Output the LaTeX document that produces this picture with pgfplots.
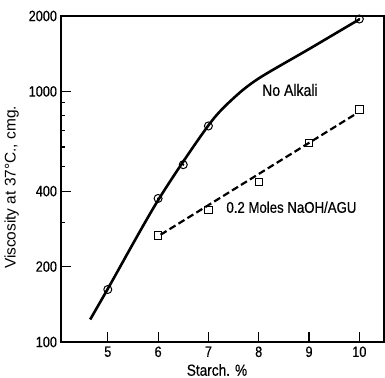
\documentclass[border=0pt]{standalone}
\usepackage{fontspec}
\setmainfont{Liberation Sans}
\newfontfamily\cond{Liberation Sans}[FakeStretch=0.85, FakeBold=0.4]
\usepackage{pgfplots}
\pgfplotsset{compat=1.18}
\begin{document}
\begin{tikzpicture}
\begin{axis}[
  name=ax,
  scale only axis,
  width=323bp, height=326bp,
  xmin=4.07, xmax=10.49,
  ymode=log, ymin=100, ymax=2000,
  xtick={5,6,7,8,9,10},
  xticklabels={5,6,7,8,9,10},
  ytick={100,200,400,1000,2000},
  yticklabels={100,200,400,1000,2000},
  minor ytick={300,500,600,700,800,900},
  xtick pos=left, ytick pos=left,
  tick align=inside,
  major tick length=10bp,
  minor tick length=4bp,
  every tick/.style={black, line width=1.1pt},
  axis line style={line width=1.3pt},
  tick label style={font=\cond\fontsize{15}{17}\selectfont},
  xticklabel style={yshift=-1bp},
  yticklabel style={xshift=-0.5bp},
  xlabel={Starch. \%},
  ylabel={Viscosity at 37°C., cmg.},
  xlabel style={at={(axis description cs:0.483,-0.0859)}, anchor=center, font=\cond\fontsize{16.1}{18}\selectfont},
  ylabel style={at={(axis description cs:-0.1526,0.474)}, anchor=center, font=\fontsize{15.5}{18}\selectfont},
  clip=false,
]
% No Alkali curve
\addplot[black, line width=2.6pt, smooth] coordinates {
  (4.65,123) (5,163) (6,368) (7,732) (7.5,940) (8,1127) (9,1476) (10,1940)
};
% 0.2 Moles NaOH/AGU line
\addplot[black, line width=2.2pt, dash pattern=on 7bp off 3.5bp] coordinates {
  (6.05,268) (9.95,818)
};
% markers
\addplot[only marks, mark=o, mark size=4bp, mark options={fill=white, line width=1pt}] coordinates {
  (5,162) (6,374) (6.5,510) (7,728) (10,1945)
};
\addplot[only marks, mark=*, mark size=0.8bp] coordinates {
  (5,162) (6,374) (6.5,510) (7,728) (10,1945)
};
\addplot[only marks, mark=square, mark size=3.6bp, mark options={fill=white, line width=0.9pt}] coordinates {
  (6,266) (7,336) (8,435) (9,621) (10,848)
};
\node[font=\cond\fontsize{16.6}{18}\selectfont] at (axis cs:8.62,1013) {No Alkali};
\node[font=\cond\fontsize{15.6}{18}\selectfont] at (axis cs:8.65,345) {0.2 Moles NaOH/AGU};
\end{axis}
\pgfresetboundingbox
\path ([shift={(-61bp,-36bp)}]ax.south west) rectangle ([shift={(1bp,16bp)}]ax.north east);
\end{tikzpicture}
\end{document}
